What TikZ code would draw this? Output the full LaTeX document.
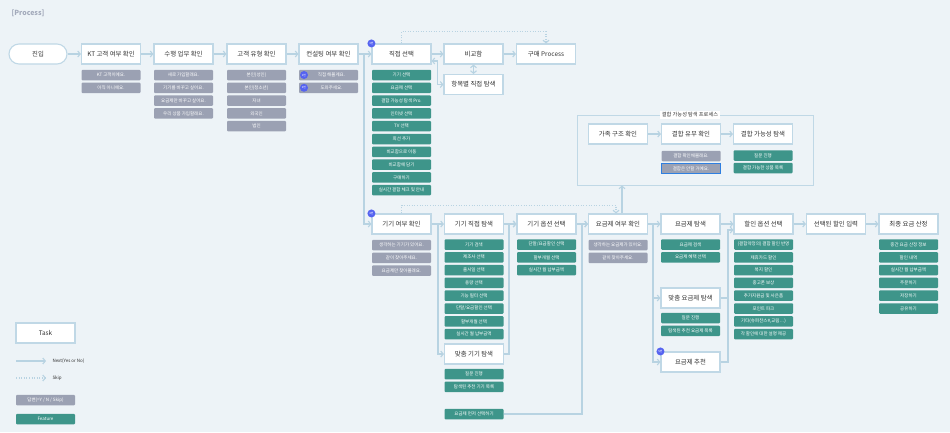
\documentclass[tikz,border=0pt]{standalone}
\usepackage{fontspec}
\setmainfont{Noto Sans CJK KR}
\usetikzlibrary{arrows.meta,calc}
\definecolor{bgc}{HTML}{EDF3F7}
\definecolor{taskb}{HTML}{C0D8E6}
\definecolor{linec}{HTML}{B8D3E2}
\definecolor{ansc}{HTML}{9BA1B3}
\definecolor{featc}{HTML}{3E958A}
\definecolor{badgec}{HTML}{5563F0}
\definecolor{txt}{HTML}{333333}
\definecolor{titlec}{HTML}{A3AABB}
\definecolor{hlblue}{HTML}{2F7FE0}
\begin{document}
\begin{tikzpicture}[x=1pt,y=-1pt,
  task/.style={draw=taskb, line width=1.1pt, fill=white, minimum width=59pt, minimum height=20pt, inner sep=0pt, font=\fontsize{6.4}{7}\selectfont, text=txt},
  ansbox/.style={fill=ansc, minimum width=59pt, minimum height=10.5pt, inner sep=0pt, rounded corners=1pt, text=white, font=\fontsize{4.5}{5}\selectfont},
  featbox/.style={ansbox, fill=featc},
  conn/.style={draw=linec, line width=1.1pt, -{Straight Barb[length=2.5pt,width=6pt]}},
  conntwo/.style={draw=linec, line width=1.1pt, {Straight Barb[length=2.5pt,width=6pt]}-{Straight Barb[length=2.5pt,width=6pt]}},
  plainline/.style={draw=linec, line width=1.1pt},
  skipline/.style={conn, dash pattern=on 1pt off 1.6pt},
  badge/.style={circle, fill=badgec, minimum size=8pt, inner sep=0pt, text=white, font=\fontsize{2.8}{3}\selectfont},
  lbl/.style={anchor=west, text=txt, font=\fontsize{4.5}{5}\selectfont}
]
\useasboundingbox[fill=bgc] (0,0) rectangle (950,432);

\node[anchor=west, text=titlec, font=\fontsize{7}{8}\selectfont\bfseries] (title) at (8,13) {[Process]};

% ---------- Row 1 ----------
\node[task, minimum width=58pt, rounded corners=10pt] (jin) at (38,54) {진입};
\node[task] (kt) at (111,54) {KT 고객 여부 확인};
\node[task] (suh) at (183.5,54) {수행 업무 확인};
\node[task] (yuh) at (256.5,54) {고객 유형 확인};
\node[task] (con) at (328.5,54) {컨설팅 여부 확인};
\node[task] (jik) at (401.5,54) {직접 선택};
\node[task] (big) at (473.5,54) {비교함};
\node[task] (gum) at (546,54) {구매 Process};
\node[task] (hang) at (473.5,84.5) {항목별 직접 탐색};

\foreach \t [count=\i from 0] in {KT 고객이에요., 아직 아니에요.}
  \node[ansbox] (kta\i) at (111,{75+12.8*\i}) {\t};
\foreach \t [count=\i from 0] in {새로 가입할래요., 기기를 바꾸고 싶어요., 요금제만 바꾸고 싶어요., 우리 상품 가입할래요.}
  \node[ansbox] (suha\i) at (183.5,{75+12.8*\i}) {\t};
\foreach \t [count=\i from 0] in {본인(성인), 본인(청소년), 자녀, 외국인, 법인}
  \node[ansbox] (yuha\i) at (256.5,{75+12.8*\i}) {\t};
\foreach \t [count=\i from 0] in {\hspace{6pt}직접 해볼게요., \hspace{6pt}도와주세요.}
  \node[ansbox] (cona\i) at (328.5,{75+12.8*\i}) {\t};
\node[badge] (b1) at (304,75) {1번};
\node[badge] (b2) at (304,87.8) {2번};
\foreach \t [count=\i from 0] in {기기 선택, 요금제 선택, 결합 가능성 탐색 Pro., 인터넷 선택, TV 선택, 회선 추가, 비교함으로 이동, 비교함에 담기, 구매하기, 실시간 결합 체크 및 안내}
  \node[featbox] (jikf\i) at (401.5,{75+12.8*\i}) {\t};

% ---------- Group ----------
\node[draw=taskb, line width=1pt, minimum width=236pt, minimum height=70pt, inner sep=0pt] (grp) at (695,150) {};
\node[fill=white, inner sep=2pt, text=txt, font=\fontsize{5.2}{6}\selectfont] (grpt) at (690,115) {결합 가능성 탐색 프로세스};
\node[task] (gaj) at (618,134) {가족 구조 확인};
\node[task] (gyu) at (691,134) {결합 유무 확인};
\node[task] (gga) at (763,134) {결합 가능성 탐색};
\node[ansbox] (gyua0) at (691,156) {결합 확인해볼래요.};
\node[ansbox, draw=hlblue, line width=1pt, rounded corners=0pt] (gyua1) at (691,168.5) {결합은 안할 거예요.};
\node[featbox] (ggaf0) at (763,155.5) {질문 진행};
\node[featbox] (ggaf1) at (763,168) {결합 가능한 상품 목록};

% ---------- Row 2 ----------
\node[task] (gy) at (401.5,224) {기기 여부 확인};
\node[task] (gj) at (474,224) {기기 직접 탐색};
\node[task] (go) at (546.5,224) {기기 옵션 선택};
\node[task] (yy) at (618,224) {요금제 여부 확인};
\node[task] (yt) at (690.5,224) {요금제 탐색};
\node[task] (hl) at (763.5,224) {할인 옵션 선택};
\node[task] (sh) at (836,224) {선택된 할인 입력};
\node[task] (cj) at (908.5,224) {최종 요금 산정};
\node[task] (mg) at (474,354) {맞춤 기기 탐색};
\node[task] (my) at (690.5,298) {맞춤 요금제 탐색};
\node[task] (yc) at (690.5,362) {요금제 추천};

\foreach \t [count=\i from 0] in {생각하는 기기가 있어요., 같이 찾아주세요., 요금제만 찾아볼래요.}
  \node[ansbox] (gya\i) at (401.5,{245+12.8*\i}) {\t};
\foreach \t [count=\i from 0] in {기기 검색, 제조사 선택, 출시일 선택, 용량 선택, 기능 필터 선택, 단말/요금할인 선택, 할부개월 선택, 실시간 월 납부금액}
  \node[featbox] (gjf\i) at (474,{244.5+12.8*\i}) {\t};
\foreach \t [count=\i from 0] in {단말/요금할인 선택, 할부개월 선택, 실시간 월 납부금액}
  \node[featbox] (gof\i) at (546.5,{244.5+12.8*\i}) {\t};
\foreach \t [count=\i from 0] in {생각하는 요금제가 있어요., 같이 찾아주세요.}
  \node[ansbox] (yya\i) at (618,{245+12.8*\i}) {\t};
\foreach \t [count=\i from 0] in {요금제 검색, 요금제 혜택 선택}
  \node[featbox] (ytf\i) at (690.5,{244.5+12.8*\i}) {\t};
\foreach \t [count=\i from 0] in {(결합약정의) 결합 할인 반영, 제휴카드 할인, 복지 할인, 중고폰 보상, 추가지원금 및 사은품, 포인트 파크, {기타(슈퍼찬스\#,교림…)}, 각 할인에 대한 설명 제공}
  \node[featbox] (hlf\i) at (763.5,{244.5+12.8*\i}) {\t};
\foreach \t [count=\i from 0] in {중간 요금 산정 정보, 할인 내역, 실시간 월 납부금액, 주문하기, 저장하기, 공유하기}
  \node[featbox] (cjf\i) at (908.5,{244.5+12.8*\i}) {\t};
\foreach \t [count=\i from 0] in {질문 진행, 탐색된 추천 기기 목록}
  \node[featbox] (mgf\i) at (474,{374+12.8*\i}) {\t};
\foreach \t [count=\i from 0] in {질문 진행, 탐색된 추천 요금제 목록}
  \node[featbox] (myf\i) at (690.5,{318+12.8*\i}) {\t};
\node[featbox] (ym) at (474,414) {요금제 먼저 선택하기};

\node[badge] (b3) at (jik.north west) {3번};
\node[badge] (b4) at (gy.north west) {4번};
\node[badge] (b5) at (yc.north west) {5번};

% ---------- Connectors row 1 ----------
\draw[conn] (jin) -- (kt);
\draw[conn] (kt) -- (suh);
\draw[conn] (suh) -- (yuh);
\draw[conn] (yuh) -- (con);
\draw[conn] (con) -- (jik);
\draw[conn] (jik) -- (big);
\draw[conn] (big) -- (gum);
\draw[conntwo] (big) -- (hang);
\draw[conntwo] ($(jik.east)+(0,7)$) -- ++(6,0) |- (hang.west);
\draw[skipline] (jik.north) -- ++(0,-12) -| (gum.north);
\coordinate (c1) at (364,54);
\draw[conn] (c1) |- (gy.west);

% ---------- Connectors group ----------
\draw[conn] (gaj) -- (gyu);
\draw[conn] (gyu) -- (gga);

% ---------- Connectors row 2 ----------
\coordinate (c2) at (438,224);
\coordinate (c3) at (509,224);
\coordinate (c4) at (582,224);
\coordinate (c5) at (653,224);
\coordinate (c6) at (728,230);
\draw[conn] (gy) -- (gj);
\draw[conn] (gj) -- (go);
\draw[conn] (go) -- (yy);
\draw[conn] (yy) -- (yt);
\draw[conn] (yt) -- (hl);
\draw[conn] (hl) -- (sh);
\draw[conn] (sh) -- (cj);
\draw[conn] (c2) |- (mg.west);
\draw[conn] (mg.east) -| (c3) -- (go.west);
\draw[conn] (ym.east) -| (c4) -- (yy.west);
\draw[skipline] (gy.north) -- ++(0,-8) -| ($(yy.north)+(-2,0)$);
\coordinate (yyup) at ($(yy.north)+(4,0)$);
\draw[conn] (yyup) -- (yyup |- grp.south);
\draw[conn] (c5) |- (my.west);
\draw[conn] (c5) |- (yc.west);
\draw[conn] (my.east) -| (c6) -- ($(hl.west)+(0,6)$);
\draw[plainline] (yc.east) -| (c6);

% ---------- Legend ----------
\node[task] (lgtask) at (45.5,333) {Task};
\coordinate (ln1) at (16,361);
\coordinate (ln2) at (46,361);
\draw[conn] (ln1) -- (ln2);
\node[lbl] (lgnext) at (49,361) {Next(Yes or No)};
\coordinate (ls1) at (16,378);
\coordinate (ls2) at (46,378);
\draw[skipline] (ls1) -- (ls2);
\node[lbl] (lgskip) at (49,378) {Skip};
\node[ansbox] (lgans) at (45.5,400) {답변(=Y / N / Skip)};
\node[featbox] (lgfeat) at (45.5,419) {Feature};
\end{tikzpicture}
\end{document}
